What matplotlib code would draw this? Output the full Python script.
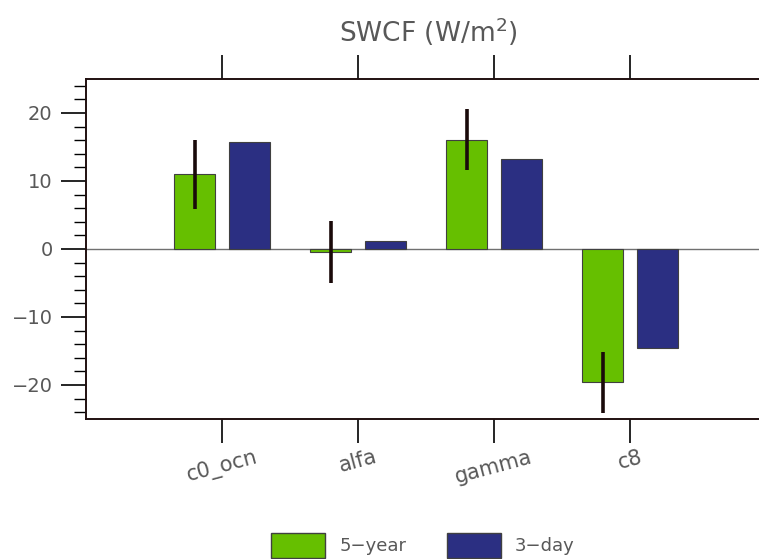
import numpy as np
import matplotlib.pyplot as plt
from matplotlib.patches import Patch
from matplotlib.ticker import MultipleLocator

categories = ["c0_ocn", "alfa", "gamma", "c8"]
five_year = [11.0, -0.45, 16.1, -19.6]
five_year_err = [5.1, 4.6, 4.5, 4.5]
three_day = [15.8, 1.2, 13.3, -14.5]

green = "#66bf00"
blue = "#2b2f82"
text_col = "#585858"

fig = plt.figure(figsize=(7.59, 5.59), dpi=100)
# axes extends past the right edge of the figure, like the reference
ax = fig.add_axes([86 / 759, 1 - 419 / 559, 680 / 759, 340 / 559])

x = np.arange(1, len(categories) + 1)
w = 0.3
ax.bar(x - 0.2, five_year, w, color=green, edgecolor="#404040", linewidth=0.8, zorder=2)
ax.bar(x + 0.2, three_day, w, color=blue, edgecolor="#404040", linewidth=0.8, zorder=2)
ax.errorbar(x - 0.2, five_year, yerr=five_year_err, fmt="none",
            ecolor="#1a0a0a", elinewidth=2.6, capsize=0, zorder=3)
ax.axhline(0, color="#707070", lw=1.0, zorder=1)

ax.set_xlim(0, 5)
ax.set_ylim(-25, 25)
ax.set_xticks(x)
ax.set_xticklabels(categories, rotation=15, fontsize=15, color=text_col)
ax.yaxis.set_major_locator(MultipleLocator(10))
ax.yaxis.set_minor_locator(MultipleLocator(2))
ax.tick_params(axis="y", which="major", length=18, width=1.2, labelsize=14,
               labelcolor=text_col, pad=6)
ax.tick_params(axis="y", which="minor", length=9, width=1.0)
ax.tick_params(axis="x", which="major", length=17, width=1.2, top=True,
               pad=3)
for s in ["left", "bottom", "top"]:
    ax.spines[s].set_linewidth(1.4)
    ax.spines[s].set_color("#201010")

fig.text(428 / 759, 1 - 32 / 559, "SWCF (W/m$^2$)", ha="center", va="center",
         fontsize=19, color=text_col)

handles = [Patch(facecolor=green, edgecolor="#404040", label="5\u2212year"),
           Patch(facecolor=blue, edgecolor="#404040", label="3\u2212day")]
fig.legend(handles=handles, loc="upper left", bbox_to_anchor=(264 / 759, 1 - 526 / 559),
           ncol=2, frameon=False, fontsize=13, handlelength=3.0, handleheight=1.7,
           columnspacing=2.2, handletextpad=0.8, labelcolor=text_col,
           borderaxespad=0)

fig.savefig("out.png", dpi=100)
